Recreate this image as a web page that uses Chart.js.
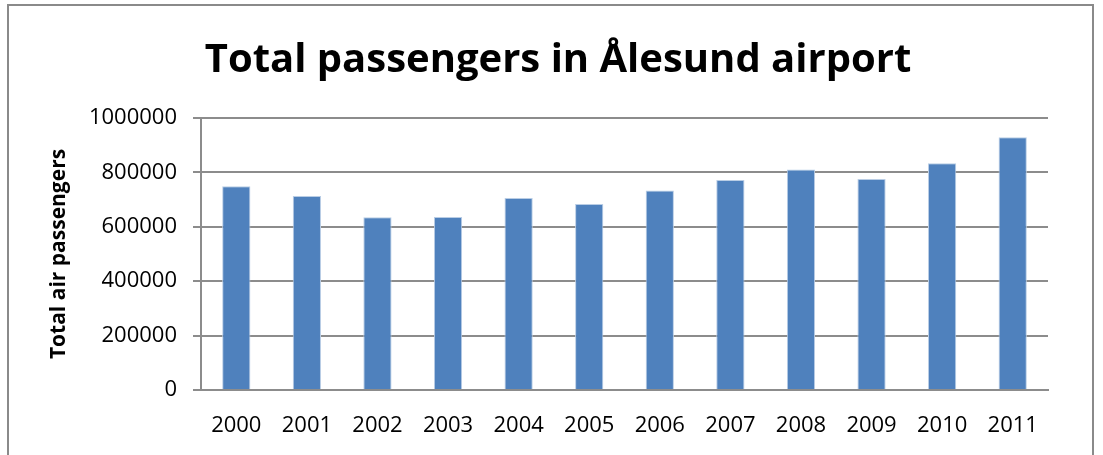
<!DOCTYPE html>
<html>
<head>
<meta charset="utf-8">
<script src="https://cdn.jsdelivr.net/npm/chart.js@4/dist/chart.umd.min.js"></script>
<style>
  html, body { margin: 0; padding: 0; background: #fff; overflow: hidden; }
  canvas { display: block; }
</style>
</head>
<body>
<canvas id="chart" width="1103" height="455"></canvas>
<script>
const years = ["2000", "2001", "2002", "2003", "2004", "2005", "2006", "2007", "2008", "2009", "2010", "2011"];
const passengers = [749000, 713000, 635000, 636000, 706000, 684000, 733000, 772000, 811000, 776000, 834000, 929000];
const yTicks = [0, 200000, 400000, 600000, 800000, 1000000];

const FONT = "'Open Sans', 'DejaVu Sans', sans-serif";
const GRID = "#8c8c8c";
const PAD_LEFT = 68; // keeps the chart title centred where the source has it

// outer frame of the chart object, cut off at the bottom like the source
const frame = {
  id: "frame",
  afterDraw(chart) {
    const ctx = chart.ctx;
    ctx.save();
    ctx.strokeStyle = "#8a8a8a";
    ctx.lineWidth = 2;
    ctx.strokeRect(8, 5, 1085, 520);
    ctx.restore();
  },
};

new Chart(document.getElementById("chart"), {
  type: "bar",
  data: {
    labels: years,
    datasets: [{
      label: "Total air passengers",
      data: passengers,
      backgroundColor: "#4f81bd",
      borderColor: "#b9cde5",
      borderWidth: { top: 1, left: 1, right: 1, bottom: 0 },
      categoryPercentage: 1,
      barPercentage: 0.4,
    }],
  },
  options: {
    responsive: false,
    animation: false,
    devicePixelRatio: 1,
    layout: { padding: { left: PAD_LEFT, right: 55, top: 0, bottom: 0 } },
    plugins: {
      legend: { display: false },
      tooltip: { enabled: false },
      title: {
        display: true,
        text: "Total passengers in Ålesund airport",
        color: "#000",
        font: { family: FONT, size: 40, weight: "bold" },
        padding: { top: 37, bottom: 33 },
      },
    },
    scales: {
      y: {
        min: 0,
        max: 1000000,
        afterBuildTicks: s => { s.ticks = yTicks.map(v => ({ value: v })); },
        afterFit: s => { s.width = 201 - PAD_LEFT; },
        ticks: {
          color: "#000",
          padding: 16,
          font: { family: FONT, size: 22 },
          callback: v => String(v),
        },
        grid: { color: GRID, lineWidth: 2, tickLength: 8, drawTicks: true },
        border: { display: true, color: GRID, width: 2 },
        title: {
          display: true,
          text: "Total air passengers",
          color: "#000",
          font: { family: FONT, size: 21, weight: "bold" },
          padding: { top: -22, bottom: 0 },
        },
      },
      x: {
        afterFit: s => { s.height = 455 - 390; },
        ticks: {
          color: "#000",
          padding: 23,
          maxRotation: 0,
          font: { family: FONT, size: 22 },
        },
        grid: { display: false, drawTicks: false },
        border: { display: true, color: GRID, width: 2 },
      },
    },
  },
  plugins: [frame],
});
</script>
</body>
</html>
